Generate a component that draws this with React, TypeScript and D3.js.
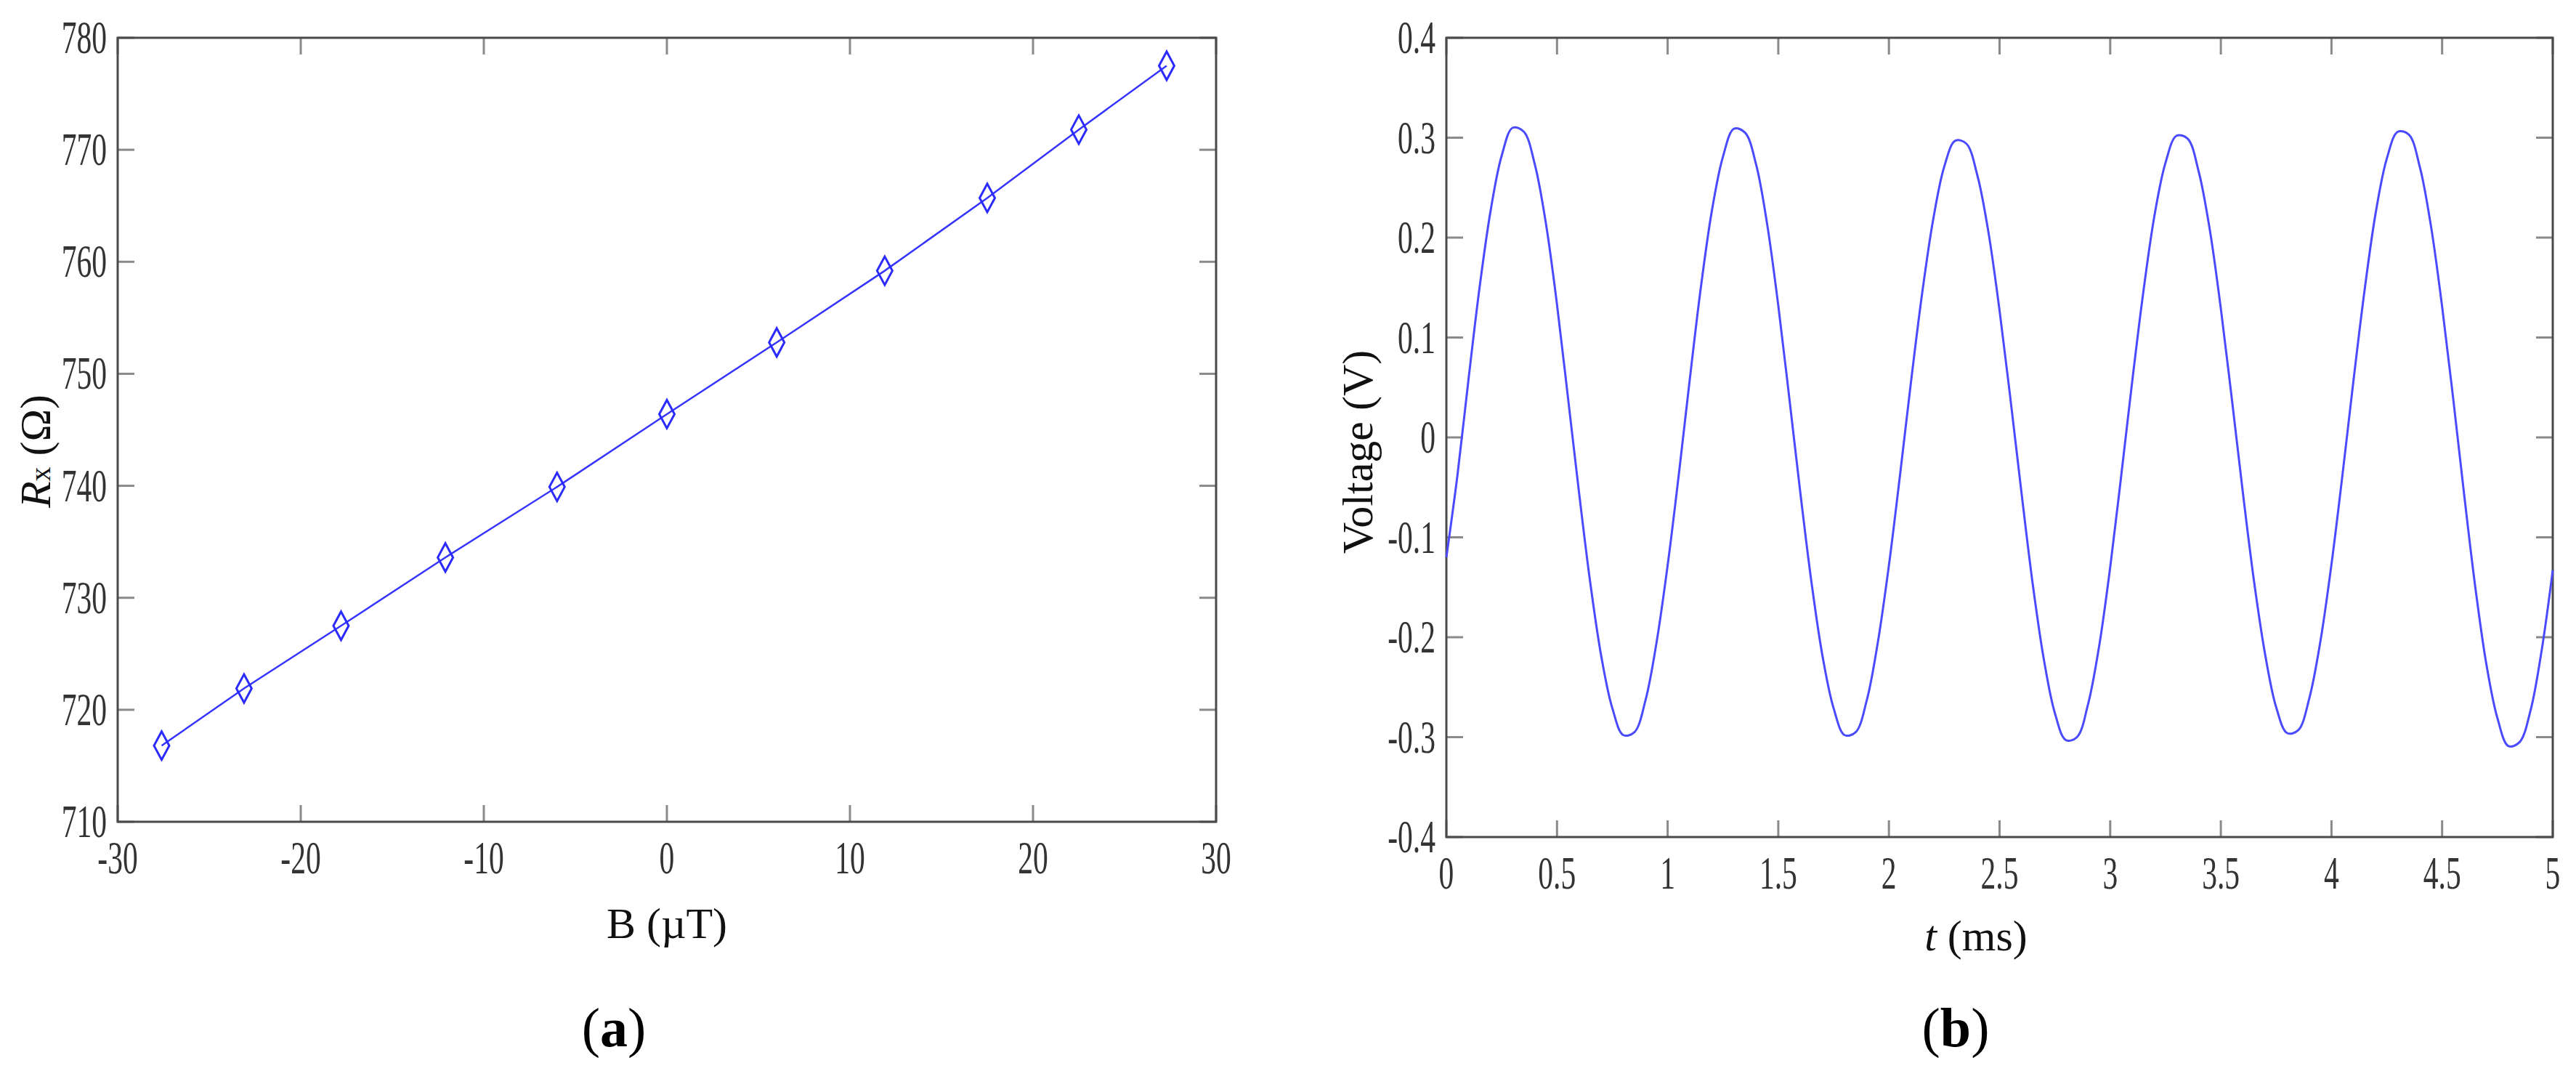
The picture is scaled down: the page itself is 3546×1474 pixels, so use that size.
import React from "react";
import * as d3 from "d3";

// (a) sensor resistance against field
const bField = [-27.6, -23.1, -17.8, -12.1, -6.0, 0.0, 6.0, 11.9, 17.5, 22.5, 27.3];
const resistance = [716.8, 721.9, 727.5, 733.6, 739.9, 746.4, 752.8, 759.2, 765.7, 771.8, 777.5];
const bTicks = [-30, -20, -10, 0, 10, 20, 30];
const rTicks = [710, 720, 730, 740, 750, 760, 770, 780];

// (b) output voltage, read every 0.05 ms
const timeMs = [
  0, 0.05, 0.1, 0.15, 0.2, 0.25, 0.3, 0.35, 0.4, 0.45, 0.5, 0.55, 0.6, 0.65, 0.7, 0.75, 0.8, 0.85, 0.9, 0.95,
  1, 1.05, 1.1, 1.15, 1.2, 1.25, 1.3, 1.35, 1.4, 1.45, 1.5, 1.55, 1.6, 1.65, 1.7, 1.75, 1.8, 1.85, 1.9, 1.95,
  2, 2.05, 2.1, 2.15, 2.2, 2.25, 2.3, 2.35, 2.4, 2.45, 2.5, 2.55, 2.6, 2.65, 2.7, 2.75, 2.8, 2.85, 2.9, 2.95,
  3, 3.05, 3.1, 3.15, 3.2, 3.25, 3.3, 3.35, 3.4, 3.45, 3.5, 3.55, 3.6, 3.65, 3.7, 3.75, 3.8, 3.85, 3.9, 3.95,
  4, 4.05, 4.1, 4.15, 4.2, 4.25, 4.3, 4.35, 4.4, 4.45, 4.5, 4.55, 4.6, 4.65, 4.7, 4.75, 4.8, 4.85, 4.9, 4.95,
  5,
];
const voltage = [
  -0.12, -0.038, 0.058, 0.15, 0.227, 0.282, 0.31, 0.306, 0.273, 0.214, 0.133, 0.039, -0.056, -0.145, -0.219, -0.271, -0.298, -0.295, -0.263, -0.205,
  -0.128, -0.038, 0.058, 0.15, 0.227, 0.281, 0.309, 0.305, 0.273, 0.213, 0.132, 0.039, -0.056, -0.145, -0.219, -0.271, -0.298, -0.295, -0.263, -0.205,
  -0.128, -0.038, 0.056, 0.144, 0.218, 0.271, 0.297, 0.294, 0.262, 0.205, 0.127, 0.037, -0.057, -0.147, -0.222, -0.276, -0.303, -0.3, -0.267, -0.209,
  -0.13, -0.038, 0.057, 0.146, 0.222, 0.275, 0.302, 0.299, 0.266, 0.208, 0.129, 0.038, -0.056, -0.144, -0.217, -0.27, -0.296, -0.293, -0.261, -0.204,
  -0.127, -0.037, 0.058, 0.148, 0.225, 0.279, 0.306, 0.303, 0.27, 0.211, 0.131, 0.039, -0.058, -0.15, -0.227, -0.281, -0.309, -0.305, -0.273, -0.213,
  -0.133,
];
const tTicks = [0, 0.5, 1, 1.5, 2, 2.5, 3, 3.5, 4, 4.5, 5];
const vTicks = [-0.4, -0.3, -0.2, -0.1, 0, 0.1, 0.2, 0.3, 0.4];

const W = 3546;
const H = 1474;
const boxA = { left: 162, right: 1674, top: 52, bottom: 1131 };
const boxB = { left: 1991, right: 3514, top: 52, bottom: 1152 };

const serif = "'Liberation Serif', 'Times New Roman', serif";
const TICK = 23;

// axis frame in the MATLAB style: closed box, ticks inside on all sides, condensed labels
const Frame = ({ box, x, y, xTicks, yTicks }) => (
  <g>
    {xTicks.map((t) => (
      <g key={"x" + t} stroke="#8a8a8a" strokeWidth={3}>
        <line x1={x(t)} x2={x(t)} y1={box.bottom} y2={box.bottom - TICK} />
        <line x1={x(t)} x2={x(t)} y1={box.top} y2={box.top + TICK} />
      </g>
    ))}
    {yTicks.map((t) => (
      <g key={"y" + t} stroke="#8a8a8a" strokeWidth={3}>
        <line x1={box.left} x2={box.left + TICK} y1={y(t)} y2={y(t)} />
        <line x1={box.right} x2={box.right - TICK} y1={y(t)} y2={y(t)} />
      </g>
    ))}
    <rect
      x={box.left}
      y={box.top}
      width={box.right - box.left}
      height={box.bottom - box.top}
      fill="none"
      stroke="#4a4a4a"
      strokeWidth={3}
    />
    {xTicks.map((t) => (
      <text
        key={"xl" + t}
        transform={`translate(${x(t)},${box.bottom + 71}) scale(0.66,1)`}
        textAnchor="middle"
        fontFamily={serif}
        fontSize={63}
        fill="#333"
      >
        {String(t)}
      </text>
    ))}
    {yTicks.map((t) => (
      <text
        key={"yl" + t}
        transform={`translate(${box.left - 15},${y(t) + 21}) scale(0.66,1)`}
        textAnchor="end"
        fontFamily={serif}
        fontSize={63}
        fill="#333"
      >
        {String(t)}
      </text>
    ))}
  </g>
);

export default function App() {
  const xA = d3.scaleLinear().domain([-30, 30]).range([boxA.left, boxA.right]);
  const yA = d3.scaleLinear().domain([710, 780]).range([boxA.bottom, boxA.top]);
  const xB = d3.scaleLinear().domain([0, 5]).range([boxB.left, boxB.right]);
  const yB = d3.scaleLinear().domain([-0.4, 0.4]).range([boxB.bottom, boxB.top]);

  const ptsA = bField.map((b, i) => [b, resistance[i]]);
  const lineA = d3
    .line()
    .x((d) => xA(d[0]))
    .y((d) => yA(d[1]));

  const ptsB = timeMs.map((t, i) => [t, voltage[i]]);
  const lineB = d3
    .line()
    .x((d) => xB(d[0]))
    .y((d) => yB(d[1]))
    .curve(d3.curveCatmullRom);

  const diamond = (cx, cy) => `M${cx},${cy - 19.5}L${cx + 10.5},${cy}L${cx},${cy + 19.5}L${cx - 10.5},${cy}Z`;

  return (
    <svg
      width={W}
      height={H}
      viewBox={`0 0 ${W} ${H}`}
      style={{ position: "absolute", left: 0, top: 0, background: "#fff" }}
    >
      <rect width={W} height={H} fill="#fff" />

      {/* panel (a) */}
      <Frame box={boxA} x={xA} y={yA} xTicks={bTicks} yTicks={rTicks} />
      <path d={lineA(ptsA)} fill="none" stroke="#3535ff" strokeWidth={2.5} />
      {ptsA.map((d, i) => (
        <path key={i} d={diamond(xA(d[0]), yA(d[1]))} fill="none" stroke="#2b2bff" strokeWidth={3} />
      ))}
      <text x={918} y={1291} textAnchor="middle" fontFamily={serif} fontSize={60} fill="#111">
        B (µT)
      </text>
      <text transform="translate(69,621) rotate(-90)" textAnchor="middle" fontFamily={serif} fontSize={60} fill="#111">
        <tspan fontStyle="italic">R</tspan>
        <tspan fontSize={40}>x</tspan>
        <tspan> (Ω)</tspan>
      </text>
      <text x={845} y={1440} textAnchor="middle" fontFamily={serif} fontSize={76} fill="#000">
        (<tspan fontWeight="bold">a</tspan>)
      </text>

      {/* panel (b) */}
      <Frame box={boxB} x={xB} y={yB} xTicks={tTicks} yTicks={vTicks} />
      <path d={lineB(ptsB)} fill="none" stroke="#4a4aff" strokeWidth={3} />
      <text x={2720} y={1308} textAnchor="middle" fontFamily={serif} fontSize={60} fill="#111">
        <tspan fontStyle="italic">t</tspan> (ms)
      </text>
      <text transform="translate(1889,622) rotate(-90)" textAnchor="middle" fontFamily={serif} fontSize={60} fill="#111">
        Voltage (V)
      </text>
      <text x={2692} y={1440} textAnchor="middle" fontFamily={serif} fontSize={76} fill="#000">
        (<tspan fontWeight="bold">b</tspan>)
      </text>
    </svg>
  );
}
